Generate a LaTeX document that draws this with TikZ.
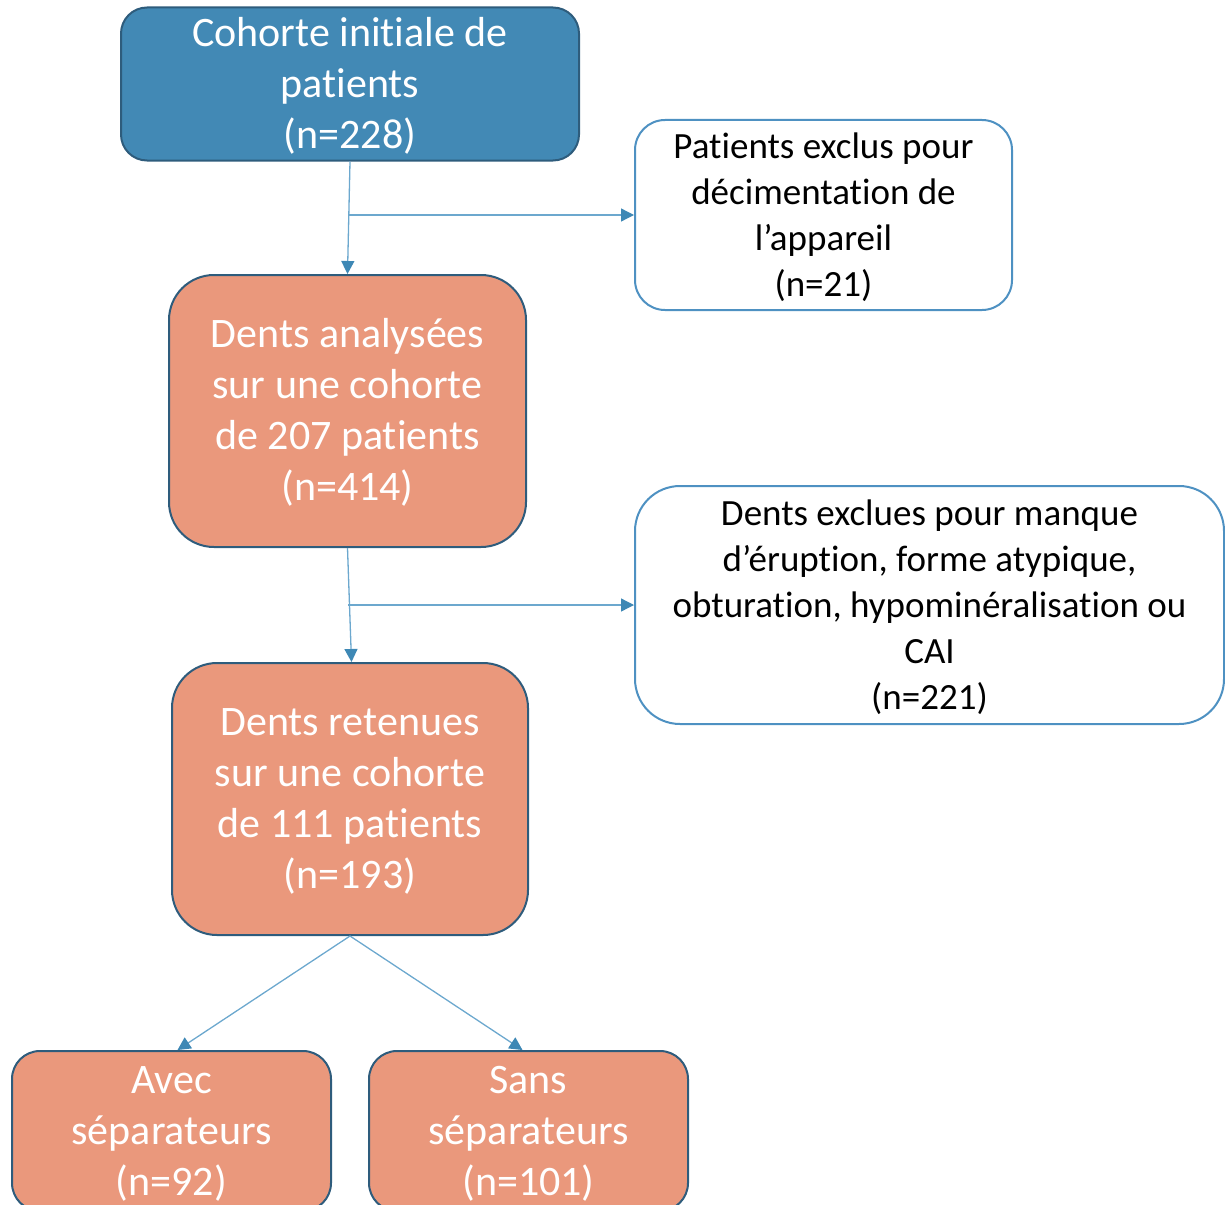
\documentclass[tikz,border=0pt]{standalone}
\usepackage{fontspec}
\setmainfont{Carlito}[Ligatures={NoCommon,NoContextual},Contextuals=NoAlternate]
\usetikzlibrary{arrows.meta}
\definecolor{bluefill}{RGB}{66,137,181}
\definecolor{darkborder}{RGB}{46,92,124}
\definecolor{orangefill}{RGB}{234,152,124}
\definecolor{lightborder}{RGB}{78,145,194}
\definecolor{linecol}{RGB}{108,168,206}
\definecolor{tipcol}{RGB}{62,136,181}
\newcommand\boxtext[1]{\raisebox{-3pt}[\height][\depth]{\begin{tabular}{@{}c@{}}#1\end{tabular}}}
\newcommand\tiNL{t\kern0pt i}
\begin{document}
\begin{tikzpicture}[x=1pt,y=-1pt,
  basebox/.style={rectangle, inner sep=0pt, line width=2pt},
  mainbox/.style={basebox, draw=darkborder, text=white, font=\fontsize{42}{51}\selectfont},
  bluebox/.style={mainbox, fill=bluefill},
  orangebox/.style={mainbox, fill=orangefill},
  exclbox/.style={basebox, draw=lightborder, fill=white, text=black, font=\fontsize{37}{46}\selectfont},
  conn/.style={draw=linecol, line width=1.3pt, -{Triangle[length=13pt,width=13pt,color=tipcol]}}
]
\useasboundingbox (0,0) rectangle (1225,1204);

\node[bluebox, minimum width=458pt, minimum height=152pt, rounded corners=26pt] (a) at (350,84)
  {\boxtext{Cohorte ini\tiNL ale de\\pa\tiNL ents\\(n=228)}};
\node[exclbox, minimum width=377pt, minimum height=190pt, rounded corners=30pt] (e1) at (823.5,215)
  {\boxtext{Pa\tiNL ents exclus pour\\décimenta\tiNL on de\\l’appareil\\(n=21)}};
\node[orangebox, minimum width=357pt, minimum height=272pt, rounded corners=45pt] (b) at (347.5,411)
  {\boxtext{Dents analysées\\sur une cohorte\\de 207 pa\tiNL ents\\(n=414)}};
\node[exclbox, minimum width=589pt, minimum height=238pt, rounded corners=45pt] (e2) at (929.5,605)
  {\boxtext{Dents exclues pour manque\\d’érup\tiNL on, forme atypique,\\obtura\tiNL on, hypominéralisa\tiNL on ou\\CAI\\(n=221)}};
\node[orangebox, minimum width=356pt, minimum height=272pt, rounded corners=45pt] (c) at (350,799)
  {\boxtext{Dents retenues\\sur une cohorte\\de 111 pa\tiNL ents\\(n=193)}};
\node[orangebox, minimum width=319pt, minimum height=160pt, rounded corners=28pt] (d) at (171.5,1131)
  {\boxtext{Avec\\séparateurs\\(n=92)}};
\node[orangebox, minimum width=319pt, minimum height=160pt, rounded corners=28pt] (f) at (528.5,1131)
  {\boxtext{Sans\\séparateurs\\(n=101)}};

\draw[conn] (a.south) -- (b.north);
\coordinate (j1) at (349,215);
\draw[conn] (j1) -- (j1 -| e1.west);
\draw[conn] (b.south) -- ([xshift=1.5pt]c.north);
\coordinate (j2) at (348,605);
\draw[conn] (j2) -- (j2 -| e2.west);
\draw[conn] (c.south) -- ([xshift=6pt]d.north);
\draw[conn] (c.south) -- ([xshift=-6pt]f.north);
\end{tikzpicture}
\end{document}
